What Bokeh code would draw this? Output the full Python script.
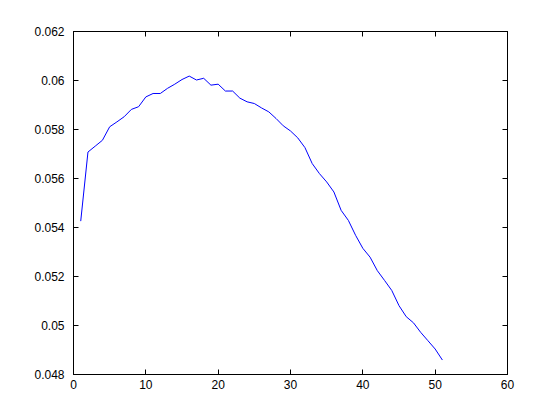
from bokeh.plotting import figure
from bokeh.models import LinearAxis, FixedTicker, CustomJSTickFormatter, Range1d
from bokeh.embed import file_html
from bokeh.resources import INLINE

x_vals = list(range(1, 52))
y_vals = [0.05426, 0.05708, 0.05732, 0.05756, 0.05811, 0.05831, 0.05852, 0.05882, 0.05893, 0.05933,
          0.05947, 0.05947, 0.05968, 0.05985, 0.06004, 0.06018, 0.06002, 0.06009, 0.05981, 0.05985,
          0.05957, 0.05957, 0.05928, 0.05913, 0.05906, 0.05888, 0.05872, 0.05845, 0.05815, 0.05794,
          0.05766, 0.05726, 0.05661, 0.05620, 0.05586, 0.05545, 0.05470, 0.05429, 0.05368, 0.05315,
          0.05279, 0.05224, 0.05184, 0.05143, 0.05081, 0.05036, 0.05011, 0.04972, 0.04938, 0.04904,
          0.04859]
x_ticks = [0, 10, 20, 30, 40, 50, 60]
y_ticks = [0.048, 0.05, 0.052, 0.054, 0.056, 0.058, 0.06, 0.062]

p = figure(width=544, height=404, output_backend="svg", toolbar_location=None,
           x_range=Range1d(0, 60), y_range=Range1d(0.048, 0.062),
           min_border_left=73, min_border_right=37, min_border_top=31, min_border_bottom=30,
           x_axis_location=None, y_axis_location=None)
p.grid.visible = False
p.outline_line_color = "black"
p.outline_line_width = 1
p.background_fill_color = "white"
p.border_fill_color = "white"

p.line(x_vals, y_vals, line_color="#0000ff", line_width=1)

fmt = CustomJSTickFormatter(code="return tick.toString();")
font = "Liberation Sans"

def style(ax, labels):
    ax.major_tick_in = 5
    ax.major_tick_out = 0
    ax.minor_tick_line_color = None
    ax.axis_line_color = "black"
    ax.major_tick_line_color = "black"
    ax.major_label_text_font = font
    ax.major_label_text_font_size = "12px"
    ax.major_label_text_color = "black" if labels else None

bottom = LinearAxis(ticker=FixedTicker(ticks=x_ticks), formatter=fmt, major_label_standoff=5)
style(bottom, True)
left = LinearAxis(ticker=FixedTicker(ticks=y_ticks), formatter=fmt, major_label_standoff=9)
style(left, True)
top = LinearAxis(ticker=FixedTicker(ticks=x_ticks), formatter=fmt)
style(top, False)
right = LinearAxis(ticker=FixedTicker(ticks=y_ticks), formatter=fmt)
style(right, False)
p.add_layout(bottom, "below")
p.add_layout(left, "left")
p.add_layout(top, "above")
p.add_layout(right, "right")

open("out.html", "w").write(file_html(p, INLINE))
